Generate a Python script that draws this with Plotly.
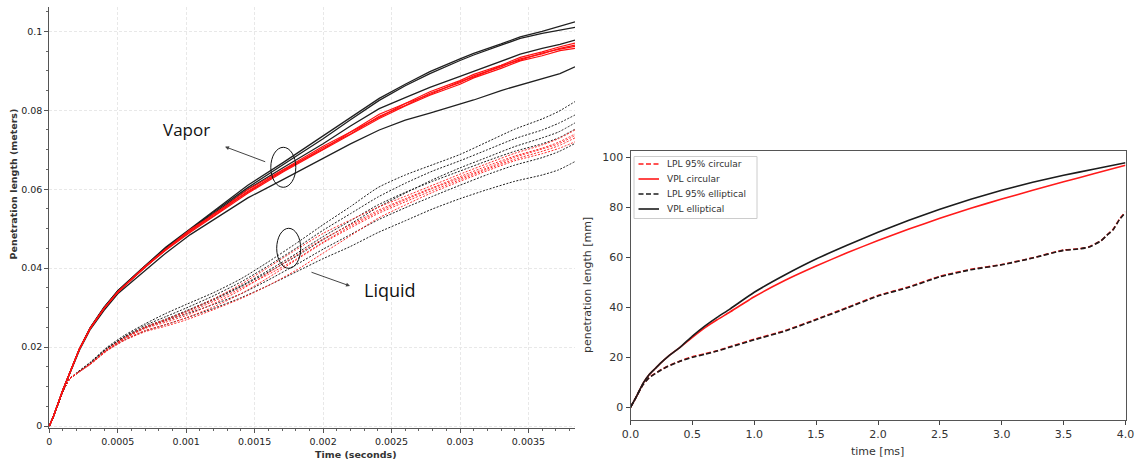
import plotly.graph_objects as go

# ---------------- left panel: CFD spray penetration (meters vs seconds) ----------------
vapor_t = [0, 0.00003, 0.0001, 0.00015, 0.00022, 0.0003, 0.0004, 0.0005, 0.00069, 0.00085,
           0.00103, 0.0012, 0.00145, 0.00171, 0.002, 0.0022, 0.00241, 0.0026, 0.00278, 0.003,
           0.0031, 0.0033, 0.00344, 0.0036, 0.00373, 0.00384]

vapor_black = [
    [0, 0.0024, 0.0092, 0.0135, 0.0195, 0.0249, 0.0300, 0.0343, 0.0404, 0.0453, 0.0500, 0.0545, 0.0610,
     0.0668, 0.0735, 0.0782, 0.0830, 0.0866, 0.0898, 0.0930, 0.0944, 0.0968, 0.0986, 0.1000, 0.1012, 0.1024],
    [0, 0.0024, 0.0092, 0.0135, 0.0196, 0.0250, 0.0301, 0.0342, 0.0403, 0.0451, 0.0498, 0.0542, 0.0604,
     0.0662, 0.0728, 0.0776, 0.0825, 0.0862, 0.0893, 0.0926, 0.0940, 0.0965, 0.0982, 0.0995, 0.1003, 0.1010],
    [0, 0.0024, 0.0092, 0.0135, 0.0195, 0.0249, 0.0299, 0.0341, 0.0401, 0.0449, 0.0497, 0.0538, 0.0600,
     0.0655, 0.0715, 0.0760, 0.0804, 0.0832, 0.0858, 0.0886, 0.0899, 0.0925, 0.0942, 0.0957, 0.0967, 0.0978],
    [0, 0.0024, 0.0091, 0.0133, 0.0192, 0.0245, 0.0293, 0.0335, 0.0392, 0.0438, 0.0485, 0.0522, 0.0578,
     0.0625, 0.0678, 0.0715, 0.0750, 0.0775, 0.0793, 0.0815, 0.0826, 0.0850, 0.0864, 0.0880, 0.0893, 0.0910],
]

vapor_red = [
    [0, 0.0024, 0.0092, 0.0135, 0.0195, 0.0248, 0.0298, 0.0340, 0.0402, 0.0448, 0.0498, 0.0535, 0.0599,
     0.0650, 0.0709, 0.0745, 0.0790, 0.0817, 0.0847, 0.0875, 0.0891, 0.0914, 0.0934, 0.0948, 0.0961, 0.0970],
    [0, 0.0024, 0.0092, 0.0135, 0.0195, 0.0248, 0.0298, 0.0338, 0.0400, 0.0446, 0.0495, 0.0532, 0.0595,
     0.0646, 0.0705, 0.0740, 0.0785, 0.0812, 0.0843, 0.0870, 0.0887, 0.0910, 0.0930, 0.0943, 0.0957, 0.0965],
    [0, 0.0024, 0.0092, 0.0135, 0.0195, 0.0248, 0.0298, 0.0340, 0.0398, 0.0448, 0.0492, 0.0537, 0.0592,
     0.0649, 0.0701, 0.0745, 0.0782, 0.0817, 0.0840, 0.0873, 0.0884, 0.0913, 0.0927, 0.0945, 0.0955, 0.0962],
    [0, 0.0024, 0.0092, 0.0135, 0.0195, 0.0248, 0.0298, 0.0340, 0.0400, 0.0445, 0.0491, 0.0531, 0.0590,
     0.0644, 0.0700, 0.0739, 0.0779, 0.0811, 0.0838, 0.0866, 0.0882, 0.0906, 0.0925, 0.0938, 0.0951, 0.0957],
]

liquid_t = [0, 0.00003, 0.0001, 0.00015, 0.0002, 0.0003, 0.00042, 0.00055, 0.0007, 0.00085,
            0.001, 0.0012, 0.0014, 0.0016, 0.0018, 0.002, 0.0022, 0.0024, 0.0026, 0.0028,
            0.003, 0.0032, 0.0034, 0.0036, 0.00372, 0.00384]

liquid_black = [
    [0, 0.0024, 0.0088, 0.0120, 0.0135, 0.0162, 0.0199, 0.0230, 0.0259, 0.0285, 0.0308, 0.0338, 0.0373,
     0.0416, 0.0462, 0.0510, 0.0556, 0.0604, 0.0636, 0.0662, 0.0688, 0.0720, 0.0752, 0.0778, 0.0797, 0.0822],
    [0, 0.0024, 0.0088, 0.0120, 0.0133, 0.0160, 0.0196, 0.0227, 0.0255, 0.0277, 0.0299, 0.0330, 0.0365,
     0.0406, 0.0450, 0.0496, 0.0538, 0.0580, 0.0615, 0.0646, 0.0672, 0.0700, 0.0728, 0.0750, 0.0767, 0.0788],
    [0, 0.0024, 0.0088, 0.0120, 0.0133, 0.0159, 0.0195, 0.0225, 0.0251, 0.0271, 0.0292, 0.0322, 0.0355,
     0.0394, 0.0436, 0.0480, 0.0520, 0.0560, 0.0592, 0.0620, 0.0646, 0.0672, 0.0696, 0.0715, 0.0730, 0.0752],
    [0, 0.0024, 0.0088, 0.0120, 0.0134, 0.0160, 0.0197, 0.0226, 0.0250, 0.0269, 0.0290, 0.0320, 0.0353,
     0.0390, 0.0429, 0.0472, 0.0512, 0.0554, 0.0590, 0.0624, 0.0654, 0.0681, 0.0708, 0.0730, 0.0745, 0.0768],
    [0, 0.0024, 0.0088, 0.0120, 0.0133, 0.0158, 0.0192, 0.0222, 0.0249, 0.0267, 0.0284, 0.0308, 0.0335,
     0.0370, 0.0408, 0.0448, 0.0485, 0.0522, 0.0553, 0.0582, 0.0610, 0.0637, 0.0661, 0.0680, 0.0695, 0.0716],
    [0, 0.0024, 0.0088, 0.0120, 0.0133, 0.0157, 0.0191, 0.0218, 0.0241, 0.0257, 0.0274, 0.0298, 0.0325,
     0.0356, 0.0390, 0.0424, 0.0455, 0.0490, 0.0520, 0.0550, 0.0576, 0.0599, 0.0620, 0.0636, 0.0649, 0.0670],
]

liquid_red = [
    [0, 0.0024, 0.0088, 0.0120, 0.0133, 0.0158, 0.0194, 0.0224, 0.0251, 0.0270, 0.0290, 0.0322, 0.0359,
     0.0402, 0.0446, 0.0488, 0.0522, 0.0554, 0.0582, 0.0610, 0.0638, 0.0665, 0.0691, 0.0712, 0.0728, 0.0750],
    [0, 0.0024, 0.0088, 0.0120, 0.0133, 0.0157, 0.0192, 0.0222, 0.0247, 0.0263, 0.0280, 0.0310, 0.0345,
     0.0388, 0.0432, 0.0474, 0.0510, 0.0546, 0.0576, 0.0604, 0.0632, 0.0659, 0.0684, 0.0704, 0.0719, 0.0740],
    [0, 0.0024, 0.0088, 0.0120, 0.0133, 0.0158, 0.0193, 0.0223, 0.0249, 0.0267, 0.0286, 0.0316, 0.0349,
     0.0384, 0.0422, 0.0466, 0.0506, 0.0542, 0.0573, 0.0602, 0.0628, 0.0654, 0.0681, 0.0702, 0.0715, 0.0736],
    [0, 0.0024, 0.0088, 0.0120, 0.0133, 0.0157, 0.0191, 0.0219, 0.0242, 0.0257, 0.0274, 0.0302, 0.0335,
     0.0376, 0.0420, 0.0464, 0.0502, 0.0538, 0.0568, 0.0597, 0.0624, 0.0651, 0.0676, 0.0696, 0.0710, 0.0730],
    [0, 0.0024, 0.0088, 0.0120, 0.0133, 0.0156, 0.0190, 0.0217, 0.0239, 0.0253, 0.0269, 0.0295, 0.0323,
     0.0356, 0.0394, 0.0438, 0.0482, 0.0526, 0.0560, 0.0592, 0.0620, 0.0647, 0.0672, 0.0690, 0.0703, 0.0720],
]

left_xticks = [0, 0.0005, 0.001, 0.0015, 0.002, 0.0025, 0.003, 0.0035]
left_xlabels = ["0", "0.0005", "0.001", "0.0015", "0.002", "0.0025", "0.003", "0.0035"]
left_yticks = [0, 0.02, 0.04, 0.06, 0.08, 0.1]
left_ylabels = ["0", "0.02", "0.04", "0.06", "0.08", "0.1"]

# ---------------- right panel: averaged penetration (mm vs ms) ----------------
vpl_t = [0, 0.05, 0.1, 0.15, 0.2, 0.25, 0.3, 0.4, 0.5, 0.6, 0.7, 0.8, 1.0, 1.25, 1.5, 1.75,
         2.0, 2.25, 2.5, 2.75, 3.0, 3.25, 3.5, 3.75, 4.0]
vpl_elliptical = [0, 4.5, 9.5, 13.0, 15.5, 18.0, 20.2, 24.0, 28.5, 32.5, 36.0, 39.2, 46.0, 53.0, 59.3,
                  64.8, 70.0, 74.8, 79.2, 83.2, 86.8, 90.0, 92.8, 95.3, 97.8]
vpl_circular = [0, 4.5, 9.5, 13.0, 15.5, 18.0, 20.2, 24.0, 28.0, 31.8, 35.0, 38.0, 44.2, 50.8, 56.5,
                61.8, 66.7, 71.3, 75.6, 79.6, 83.3, 86.8, 90.2, 93.5, 96.8]

lpl_t = [0, 0.05, 0.1, 0.15, 0.2, 0.25, 0.3, 0.4, 0.5, 0.6, 0.7, 0.8, 1.0, 1.25, 1.5, 1.75, 2.0,
         2.25, 2.5, 2.75, 3.0, 3.25, 3.5, 3.6, 3.7, 3.8, 3.85, 3.9, 3.95, 4.0]
lpl_elliptical = [0, 4.5, 9.0, 11.8, 13.5, 15.0, 16.3, 18.4, 20.0, 21.2, 22.5, 24.0, 27.0, 30.5, 35.0,
                  39.7, 44.5, 48.0, 52.2, 55.0, 57.0, 59.7, 62.8, 63.2, 64.0, 66.5, 68.8, 71.0, 75.0, 78.0]
lpl_circular = [0, 4.5, 9.0, 11.9, 13.6, 15.1, 16.4, 18.5, 20.2, 21.4, 22.6, 24.2, 27.2, 30.7, 35.2,
                39.9, 44.7, 48.2, 52.4, 55.2, 57.1, 59.8, 62.9, 63.3, 64.1, 66.6, 68.9, 71.2, 75.2, 78.2]

right_xticks = [0, 0.5, 1, 1.5, 2, 2.5, 3, 3.5, 4]
right_yticks = [0, 20, 40, 60, 80, 100]

W, H = 1141, 462
RED = "#ff1a1a"
BLACK = "#1c1c1c"
DASH = "5px,2.5px"

fig = go.Figure()

# liquid (dashed) and vapor (solid) traces on the left panel
for ys in liquid_black:
    fig.add_trace(go.Scatter(x=liquid_t, y=ys, mode="lines", showlegend=False, hoverinfo="skip",
                             line=dict(color="#202020", width=1, dash="2px,1.5px", shape="spline", smoothing=0.6),
                             xaxis="x", yaxis="y"))
for ys in liquid_red:
    fig.add_trace(go.Scatter(x=liquid_t, y=ys, mode="lines", showlegend=False, hoverinfo="skip",
                             line=dict(color="#ff2a2a", width=1, dash="2px,1.5px", shape="spline", smoothing=0.6),
                             xaxis="x", yaxis="y"))
for ys in vapor_black:
    fig.add_trace(go.Scatter(x=vapor_t, y=ys, mode="lines", showlegend=False, hoverinfo="skip",
                             line=dict(color="#202020", width=1.3), xaxis="x", yaxis="y"))
for ys in vapor_red:
    fig.add_trace(go.Scatter(x=vapor_t, y=ys, mode="lines", showlegend=False, hoverinfo="skip",
                             line=dict(color="#ff1010", width=1.2), xaxis="x", yaxis="y"))

# right panel: (name, time, values, colour, dash)
right_series = [
    ("LPL 95% circular", lpl_t, lpl_circular, RED, DASH),
    ("VPL circular", vpl_t, vpl_circular, RED, "solid"),
    ("LPL 95% elliptical", lpl_t, lpl_elliptical, BLACK, DASH),
    ("VPL elliptical", vpl_t, vpl_elliptical, BLACK, "solid"),
]
for name, tt, vv, col, dash in right_series:
    fig.add_trace(go.Scatter(x=tt, y=vv, mode="lines", name=name, showlegend=False,
                             line=dict(color=col, width=1.6, dash=dash, shape="spline", smoothing=0.5),
                             xaxis="x2", yaxis="y2"))

left_font = dict(family="DejaVu Sans", size=9.5, color="#222")
right_font = dict(family="DejaVu Sans", size=11, color="#333")


def px_x(p):
    return p / W


def px_y(p):
    return 1 - p / H


fig.update_layout(
    width=W, height=H, margin=dict(l=0, r=0, t=0, b=0, autoexpand=False),
    paper_bgcolor="white", plot_bgcolor="white", showlegend=False,
    xaxis=dict(domain=[px_x(49.3), px_x(575)], range=[0, 0.00384], anchor="y", automargin=False,
               tickvals=left_xticks, ticktext=left_xlabels, tickfont=left_font, ticklabelstandoff=1,
               ticks="outside", ticklen=4, tickcolor="#555", showline=True, linecolor="#555",
               showgrid=True, gridcolor="#e8e8e8", griddash="3px,2px", zeroline=False,
               minor=dict(dtick=0.0001, tick0=0, ticks="outside", ticklen=2, tickcolor="#666", showgrid=False)),
    yaxis=dict(domain=[px_y(428), px_y(7)], range=[-0.0005, 0.10616], anchor="x", automargin=False,
               tickvals=left_yticks, ticktext=left_ylabels, tickfont=left_font,
               ticks="outside", ticklen=4, tickcolor="#555", showline=True, linecolor="#555",
               showgrid=True, gridcolor="#e8e8e8", griddash="3px,2px", zeroline=False,
               minor=dict(dtick=0.005, tick0=0, ticks="outside", ticklen=2, tickcolor="#666", showgrid=False)),
    xaxis2=dict(domain=[px_x(630.5), px_x(1125.5)], range=[0, 4], anchor="y2", automargin=False,
                tickvals=right_xticks, tickformat=".1f", tickfont=right_font,
                ticks="outside", ticklen=4, tickcolor="#444", showline=True, mirror=True,
                linecolor="#555", linewidth=1, showgrid=False, zeroline=False),
    yaxis2=dict(domain=[px_y(419.5), px_y(151)], range=[-4.88, 102.52], anchor="x2", automargin=False,
                tickvals=right_yticks, tickfont=right_font,
                ticks="outside", ticklen=4, tickcolor="#444", showline=True, mirror=True,
                linecolor="#555", linewidth=1, showgrid=False, zeroline=False),
)


def label(text, cx, cy, font, **kw):
    return dict(text=text, x=px_x(cx), y=px_y(cy), xref="paper", yref="paper",
                xanchor=kw.pop("xanchor", "center"), yanchor="middle", showarrow=False, font=font, **kw)


annotations = [
    label("<b>Time (seconds)</b>", 356, 454, dict(family="DejaVu Sans", size=9.5, color="#333")),
    label("<b>Penetration length (meters)</b>", 12.5, 184,
          dict(family="DejaVu Sans", size=9.5, color="#333"), textangle=-90),
    label("time [ms]", 877, 451, right_font),
    label("penetration length [mm]", 587, 285, right_font, textangle=-90),
    label("Vapor", 186, 129, dict(family="Open Sans", size=17, color="#111")),
    label("Liquid", 390, 290, dict(family="Open Sans", size=18, color="#111")),
    # pointer arrows
    dict(text="", x=px_x(225), y=px_y(146.7), xref="paper", yref="paper", showarrow=True,
         ax=41.7, ay=15.6, arrowhead=2, arrowsize=0.8, arrowwidth=1, arrowcolor="#444"),
    dict(text="", x=px_x(350), y=px_y(286), xref="paper", yref="paper", showarrow=True,
         ax=-40, ay=-14.3, arrowhead=2, arrowsize=0.8, arrowwidth=1, arrowcolor="#444"),
]

# highlight ellipses around the vapor and liquid bundles
shapes = [
    dict(type="circle", xref="paper", yref="paper",
         x0=px_x(283.3 - 12.5), x1=px_x(283.3 + 12.5), y0=px_y(167.3 + 20), y1=px_y(167.3 - 20),
         line=dict(color="#111", width=1)),
    dict(type="circle", xref="paper", yref="paper",
         x0=px_x(288.7 - 12), x1=px_x(288.7 + 12), y0=px_y(248.3 + 20), y1=px_y(248.3 - 20),
         line=dict(color="#111", width=1)),
]

# compact legend box for the right panel (matplotlib-style)
shapes.append(dict(type="rect", xref="paper", yref="paper",
                   x0=px_x(634), x1=px_x(757), y0=px_y(218.5), y1=px_y(156.5),
                   line=dict(color="#cccccc", width=1), fillcolor="rgba(255,255,255,0.85)", layer="above"))
row_y = [164, 179, 194, 209]
for (name, tt, vv, col, dash), ry in zip(right_series, row_y):
    shapes.append(dict(type="line", xref="paper", yref="paper",
                       x0=px_x(638.5), x1=px_x(659), y0=px_y(ry), y1=px_y(ry),
                       line=dict(color=col, width=1.6, dash=dash), layer="above"))
    annotations.append(label(name, 665, ry, dict(family="DejaVu Sans", size=9, color="#333"),
                             xanchor="left"))

fig.update_layout(annotations=annotations, shapes=shapes)

fig.write_html("out.html")
